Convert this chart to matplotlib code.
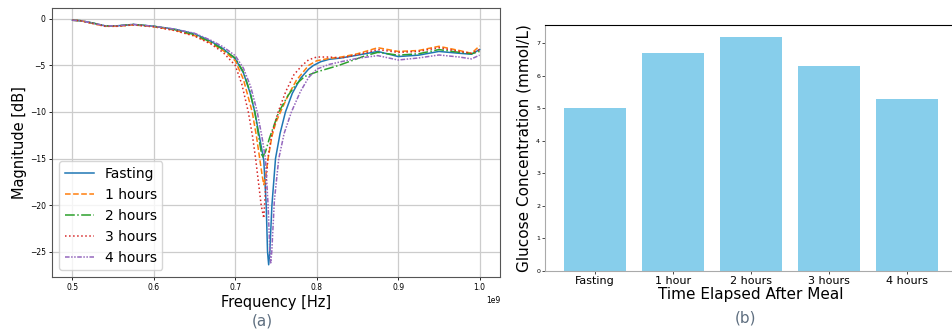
import matplotlib
matplotlib.use("Agg")
import matplotlib.pyplot as plt
import numpy as np

# (a) S-parameter magnitude vs frequency (GHz values, scaled to Hz when plotted)
fasting_f = [0.500, 0.510, 0.525, 0.540, 0.555, 0.575, 0.600, 0.625, 0.650, 0.670, 0.685, 0.700,
             0.710, 0.718, 0.724, 0.730, 0.735, 0.738, 0.7396, 0.741, 0.7424, 0.745, 0.7494, 0.755,
             0.7616, 0.770, 0.780, 0.790, 0.796, 0.805, 0.815, 0.830, 0.850, 0.875, 0.900, 0.925,
             0.950, 0.975, 0.990, 1.000]
fasting_m = [-0.15, -0.2, -0.45, -0.75, -0.75, -0.6, -0.8, -1.1, -1.6, -2.4, -3.2, -4.3,
             -5.8, -7.9, -10.0, -12.8, -15.2, -20.0, -25.0, -26.4, -25.0, -20.0, -15.0, -12.3,
             -10.0, -8.0, -6.4, -5.4, -5.0, -4.6, -4.35, -4.2, -3.9, -3.5, -4.05, -3.9,
             -3.5, -3.7, -3.8, -3.3]

h1_f = [0.500, 0.510, 0.525, 0.540, 0.555, 0.575, 0.600, 0.625, 0.650, 0.670, 0.685, 0.700,
        0.710, 0.7208, 0.726, 0.730, 0.733, 0.735, 0.737, 0.7403, 0.745, 0.750, 0.7555, 0.765,
        0.775, 0.790, 0.800, 0.815, 0.830, 0.850, 0.875, 0.900, 0.925, 0.950, 0.975, 0.990, 1.000]
h1_m = [-0.15, -0.2, -0.5, -0.8, -0.8, -0.65, -0.85, -1.2, -1.8, -2.6, -3.4, -4.5,
        -6.5, -10.0, -12.6, -15.0, -16.8, -17.8, -17.0, -15.0, -12.6, -11.1, -10.0, -8.2,
        -6.6, -5.0, -4.5, -4.25, -4.1, -3.75, -3.1, -3.5, -3.4, -2.95, -3.4, -3.7, -2.9]

h2_f = [0.500, 0.510, 0.525, 0.540, 0.555, 0.575, 0.600, 0.625, 0.650, 0.670, 0.685, 0.700,
        0.710, 0.718, 0.724, 0.729, 0.733, 0.737, 0.742, 0.7534, 0.765, 0.775, 0.785, 0.800,
        0.827, 0.860, 0.875, 0.900, 0.925, 0.950, 0.975, 0.990, 1.000]
h2_m = [-0.15, -0.2, -0.45, -0.75, -0.75, -0.6, -0.8, -1.15, -1.7, -2.5, -3.3, -4.2,
        -5.7, -7.8, -10.0, -12.8, -14.9, -14.3, -12.8, -10.0, -8.2, -7.0, -6.2, -5.7,
        -5.0, -3.95, -3.6, -3.9, -3.75, -3.3, -3.6, -3.75, -3.5]

h3_f = [0.500, 0.510, 0.525, 0.540, 0.555, 0.575, 0.600, 0.625, 0.650, 0.670, 0.685, 0.700,
        0.708, 0.716, 0.721, 0.725, 0.7318, 0.735, 0.737, 0.740, 0.745, 0.7526, 0.762, 0.772,
        0.782, 0.790, 0.800, 0.815, 0.830, 0.850, 0.875, 0.900, 0.925, 0.950, 0.975, 0.990, 1.000]
h3_m = [-0.15, -0.2, -0.5, -0.8, -0.8, -0.65, -0.85, -1.25, -1.85, -2.7, -3.6, -5.0,
        -7.0, -10.0, -12.5, -15.0, -20.0, -21.4, -18.5, -15.0, -12.3, -10.0, -7.8, -6.0,
        -5.0, -4.4, -4.1, -4.1, -4.2, -3.85, -3.3, -3.6, -3.5, -3.1, -3.5, -3.7, -3.3]

h4_f = [0.500, 0.510, 0.525, 0.540, 0.555, 0.575, 0.600, 0.625, 0.650, 0.670, 0.685, 0.700,
        0.710, 0.719, 0.727, 0.733, 0.737, 0.7403, 0.7425, 0.7435, 0.7448, 0.748, 0.7534, 0.760,
        0.7689, 0.780, 0.790, 0.800, 0.815, 0.830, 0.850, 0.875, 0.900, 0.925, 0.950, 0.975,
        0.990, 1.000]
h4_m = [-0.15, -0.2, -0.45, -0.75, -0.75, -0.6, -0.8, -1.1, -1.55, -2.3, -3.0, -3.95,
        -5.3, -7.3, -10.0, -12.8, -15.0, -20.0, -25.0, -26.2, -25.0, -19.5, -15.0, -12.3,
        -10.0, -7.8, -6.3, -5.4, -4.9, -4.6, -4.24, -3.95, -4.42, -4.2, -3.88, -4.1,
        -4.3, -3.9]

series_labels = ['Fasting', '1 hours', '2 hours', '3 hours', '4 hours']

# (b) glucose concentration per time point
times = ['Fasting', '1 hour', '2 hours', '3 hours', '4 hours']
glucose = [5.0, 6.7, 7.2, 6.3, 5.3]

fig = plt.figure(figsize=(9.52, 3.32), dpi=100)

# left panel
ax1 = fig.add_axes([52 / 952, 55 / 332, 448 / 952, 269 / 332])
styles = ['-', '--', '-.', ':', (0, (3, 1, 1, 1, 1, 1))]
colors = ['C0', 'C1', 'C2', 'C3', 'C4']
curves = [(fasting_f, fasting_m), (h1_f, h1_m), (h2_f, h2_m), (h3_f, h3_m), (h4_f, h4_m)]
for (f, m), ls, c, lab in zip(curves, styles, colors, series_labels):
    ax1.plot(np.array(f) * 1e9, m, linestyle=ls, color=c, lw=1.1, label=lab)
ax1.grid(True, color='#cccccc', lw=0.9)
ax1.set_xlabel('Frequency [Hz]', fontsize=10.5, labelpad=2)
ax1.set_ylabel('Magnitude [dB]', fontsize=10.5, labelpad=2)
ax1.tick_params(labelsize=5.5, length=2.5, width=0.6, pad=2)
ax1.xaxis.get_offset_text().set_fontsize(5.5)
for s in ax1.spines.values():
    s.set_color('#555555')
ax1.legend(loc='lower left', fontsize=10, handlelength=2.1)
fig.text(262 / 952, 1 - 321 / 332, '(a)', fontsize=11, color='#5f6f80',
         ha='center', va='center')

# right panel
ax2 = fig.add_axes([545 / 952, 61 / 332, 412 / 952, 246 / 332])
ax2.bar(times, glucose, color='skyblue', width=0.8)
ax2.set_xlabel('Time Elapsed After Meal', fontsize=11, labelpad=1)
ax2.set_ylabel('Glucose Concentration (mmol/L)', fontsize=11, labelpad=3)
ax2.tick_params(axis='y', labelsize=4.5, length=2, width=0.5, pad=1.5)
ax2.tick_params(axis='x', labelsize=8, length=2, width=0.5, pad=1.5)
ax2.spines['left'].set_color('#aaaaaa')
ax2.spines['bottom'].set_color('#aaaaaa')
ax2.spines['top'].set_color('black')
fig.text(746 / 952, 1 - 318 / 332, '(b)', fontsize=11, color='#5f6f80',
         ha='center', va='center')

fig.savefig('out.png', dpi=100)
